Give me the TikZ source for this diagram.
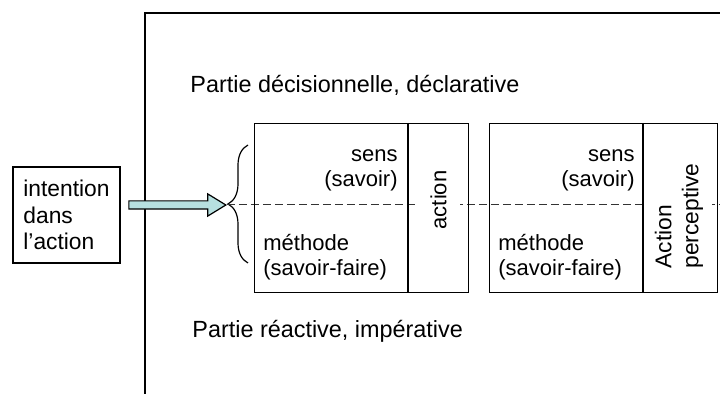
\documentclass[tikz,border=0pt]{standalone}
\usepackage{fontspec}
\setmainfont{Liberation Sans}
\usetikzlibrary{positioning,shapes.arrows,decorations.pathreplacing}
\definecolor{arrowfill}{HTML}{B7E0E0}
\begin{document}
\begin{tikzpicture}[
    x=0.5pt, y=-0.5pt,
    every node/.style = {font=\fontsize{11}{12.5}\selectfont},
    part/.style = {draw, line width=0.6pt, inner sep=0, anchor=north west, minimum height=84.5pt},
    txt/.style = {inner sep=0},
    label/.style = {inner sep=0, anchor=west, font=\fontsize{11.7}{13}\selectfont},
    vtext/.style = {rotate=90, fill=white, inner xsep=0, inner ysep=0},
    dashline/.style = {dashed, dash pattern=on 4pt off 2pt, line width=0.5pt, black!80},
  ]
  \useasboundingbox (0,0) rectangle (720,394);
  % cadre
  \draw[line width=0.6pt] (145,394) -- (145,13) -- (720,13);
  \node[label] (decl) at (190,85) {Partie décisionnelle, déclarative};
  \node[label] (react) at (192,331) {Partie réactive, impérative};
  % intention
  \node[draw, line width=0.6pt, align=left, minimum width=53.5pt, minimum height=48pt,
        font=\fontsize{11.4}{13.25}\selectfont] (intent) at (66.5,215)
    {intention\\dans\\l'action};
  \coordinate (tip) at (227,205);
  \draw[decorate, decoration={brace, amplitude=10pt}, line width=0.6pt] (248,263) -- (248,145);
  \node[single arrow, draw, fill=arrowfill, line width=0.6pt, anchor=tip, inner xsep=0, inner ysep=1.75pt,
        minimum height=48.5pt, minimum width=10.5pt, single arrow head extend=3.5pt,
        single arrow tip angle=63] (arr) at (tip) {};
  \draw[dashline] (tip) -- (720,205);
  % les deux parties
  \node[part, minimum width=107pt] (part1) at (254,123) {};
  \node[part, minimum width=114pt] (part2) at (489,123) {};
  \draw[line width=0.6pt] ([xshift=77pt]part1.north west) -- ([xshift=77pt]part1.south west);
  \draw[line width=0.6pt] ([xshift=77pt]part2.north west) -- ([xshift=77pt]part2.south west);
  \node[txt, align=right, anchor=east] (sens1) at (398,170) {sens\\(savoir)};
  \node[txt, align=left, anchor=west] (meth1) at (263,257) {méthode\\(savoir-faire)};
  \node[txt, align=right, anchor=east] (sens2) at (635,170) {sens\\(savoir)};
  \node[txt, align=left, anchor=west] (meth2) at (498,257) {méthode\\(savoir-faire)};
  \node[vtext, minimum height=21.5pt] (act1) at (438.5,200) {action};
  \node[vtext, minimum height=33pt, align=left, font=\fontsize{11.4}{13.5}\selectfont] (act2) at (679,216)
    {Action\\perceptive};
\end{tikzpicture}
\end{document}
